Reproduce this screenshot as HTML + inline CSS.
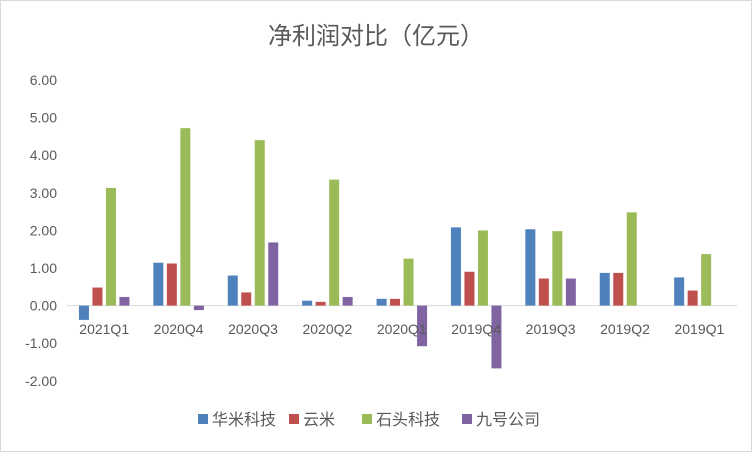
<!DOCTYPE html>
<html><head><meta charset="utf-8"><style>
body{margin:0;background:#fff}
svg{display:block;font-family:"Liberation Sans","Noto Sans CJK SC",sans-serif}
</style></head><body>
<svg id="c" width="752" height="452">
<rect x="0.5" y="0.5" width="751" height="451" fill="#fff" stroke="#d9d9d9"/>
<text x="376" y="44" text-anchor="middle" font-size="24" fill="#595959">净利润对比（亿元）</text>
<g id="yaxis"></g>
<g id="bars"></g>
<g id="xaxis"></g>
<g id="legend"></g>
</svg>
<script>
const categories=["2021Q1","2020Q4","2020Q3","2020Q2","2020Q1","2019Q4","2019Q3","2019Q2","2019Q1"];
const seriesNames=["华米科技","云米","石头科技","九号公司"];
const huami=[-0.38,1.14,0.80,0.13,0.18,2.08,2.03,0.87,0.75];
const yunmi=[0.48,1.12,0.35,0.10,0.18,0.90,0.72,0.87,0.40];
const roborock=[3.13,4.72,4.40,3.35,1.25,2.00,1.98,2.48,1.37];
const ninebot=[0.23,-0.12,1.68,0.23,-1.08,-1.67,0.72,0,0];
const yTicks=[6,5,4,3,2,1,0,-1,-2];
const colors=["#4f81bd","#c0504d","#9bbb59","#8064a2"];
const series=[huami,yunmi,roborock,ninebot];
const NS="http://www.w3.org/2000/svg";
const y=v=>305.6-v*37.6;
const x0=67,gw=74.4;
const xc=i=>x0+gw*(i+0.5);
function mk(t,a,p){const e=document.createElementNS(NS,t);for(const k in a)e.setAttribute(k,a[k]);p.appendChild(e);return e;}
const ya=document.getElementById('yaxis');
yTicks.forEach(v=>{
 const t=mk('text',{x:57,y:y(v)+5,'text-anchor':'end','font-size':14,fill:'#595959'},ya);
 
 
 t.textContent=v.toFixed(2);
});
const zl=mk('line',{x1:x0,x2:737,y1:y(0),y2:y(0),stroke:'#d9d9d9'},ya);


const bg=document.getElementById('bars');
const bw=10,step=13.5;
series.forEach((s,si)=>{
 s.forEach((v,i)=>{
  const cx=xc(i)+(si-1.5)*step;
  const top=Math.min(y(v),y(0)),h=Math.abs(y(v)-y(0));
  const r=mk('rect',{x:cx-bw/2,y:top,width:bw,height:h,fill:colors[si]},bg);
  
  
 });
});
const xa=document.getElementById('xaxis');
categories.forEach((c,i)=>{
 const t=mk('text',{x:xc(i),y:334,'text-anchor':'middle','font-size':14,fill:'#595959'},xa);
 
 
 t.textContent=c;
});
const lg=document.getElementById('legend');
const lx=[198,289,362,462];
seriesNames.forEach((n,i)=>{
 const r=mk('rect',{x:lx[i],y:414,width:10,height:10,fill:colors[i]},lg);
 
 
 const t=mk('text',{x:lx[i]+14,y:425,'font-size':16,fill:'#595959'},lg);
 
 
 t.textContent=n;
});
</script>
</body></html>
